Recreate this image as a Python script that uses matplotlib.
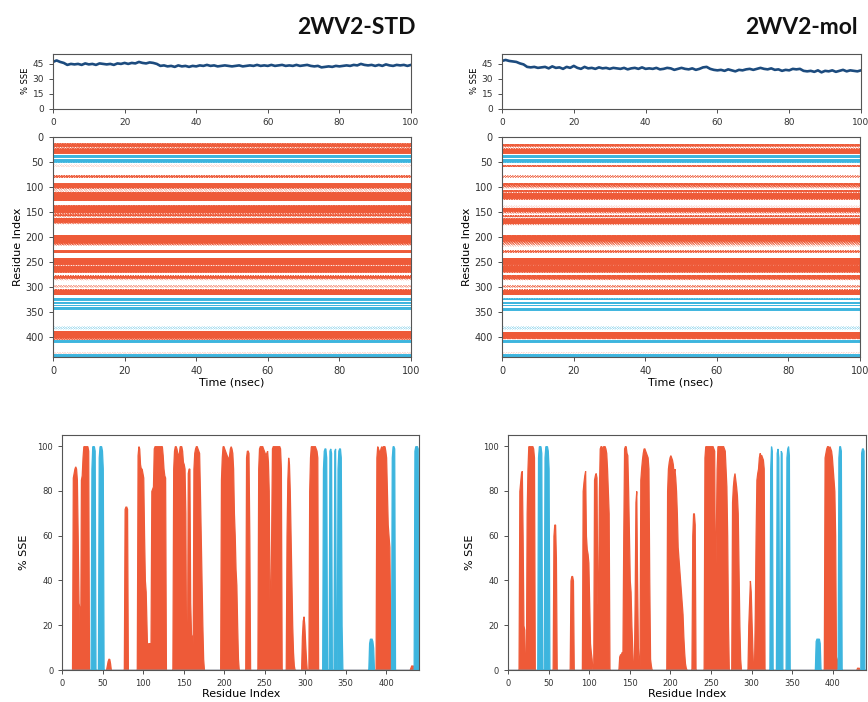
import numpy as np
import matplotlib
matplotlib.use("Agg")
import matplotlib.pyplot as plt

plt.rcParams['lines.scale_dashes'] = False
plt.rcParams['font.family'] = ['DejaVu Sans']

# ---------------- data ----------------
titles = ["2WV2-STD", "2WV2-mol"]
n_residues = 441

# % SSE over time (one value per nsec, 0..100)
std_sse_time = [47, 48.5, 47, 46, 44, 45, 44.5, 45, 44, 45.5, 44.5,
                45, 44, 45.5, 45, 44.5, 45, 44, 45.5, 45, 46,
                45, 46, 45.5, 47, 46, 45.5, 46.5, 46, 45,
                43, 43.5, 42.5, 43, 42, 43.5, 42.5, 43, 42, 43, 42.5,
                43.5, 43, 44, 43, 43.5, 42.5, 43, 43.5, 43, 42.5,
                43, 43.5, 42.5, 43, 43.5, 43, 44, 43, 43.5, 43,
                44, 43, 43.5, 44, 43, 43.5, 43, 44, 43, 43.5,
                44, 43, 42.5, 43, 41.5, 42, 42.5, 42, 43, 42.5,
                43, 43.5, 43, 44, 43.5, 45, 44, 43.5, 44, 43,
                44, 43, 44.5, 43.5, 43, 44, 43.5, 44, 43, 44]
mol_sse_time = [48, 49, 48, 47.5, 47, 45.5, 44.5, 42, 41.5, 42, 41,
                41.5, 42, 40.5, 42.5, 41, 41.5, 40, 42, 41, 43,
                41, 40, 42, 40.5, 41, 40, 41.5, 40.5, 41, 40,
                41, 40.5, 40, 41, 39.5, 40.5, 41, 40, 41.5, 40,
                40.5, 40, 41, 39.5, 40, 41, 40.5, 39, 40, 41,
                40, 39.5, 40.5, 39, 40, 41.5, 42, 40, 39, 38.5,
                39, 38, 39.5, 38.5, 37.5, 39, 38.5, 39.5, 40, 39,
                40, 41, 40, 39.5, 40.5, 39, 39.5, 38, 39, 38.5,
                40, 39.5, 40, 38, 37.5, 38, 37, 38.5, 36.5, 38,
                37.5, 38.5, 37, 38, 39, 37.5, 38.5, 38, 37.5, 38.5]

# per-residue % helix / strand: (first residue, values...)
std_helix = [
    (13, [86, 88, 90, 91, 90, 85, 60, 30, 28]),
    (23, [85, 87, 95, 100, 100, 100, 100, 100, 100, 98]),
    (55, [2, 4, 5, 5, 3]),
    (77, [72, 73, 73, 72]),
    (93, [96, 100, 99, 92, 90, 90, 88, 86, 60, 40, 35, 20, 5]),
    (106, [12, 12, 12, 12, 80, 81, 82, 99, 100, 100, 100, 100, 100, 100, 100,
           100, 100, 100, 96, 90, 87, 86]),
    (137, [90, 98, 100, 100, 99, 97, 96, 97, 100, 100, 100, 98, 93, 92, 90, 70]),
    (155, [88, 90, 90, 30, 16, 15]),
    (162, [90, 97, 99, 100, 100, 99, 98, 97, 80, 60, 40, 20, 5]),
    (196, [85, 95, 100, 100, 99, 98, 97, 96, 95, 94, 96, 99, 100, 99, 97, 90,
           70, 60, 45, 38, 20, 5]),
    (227, [95, 98, 98, 97, 60]),
    (242, [90, 99, 100, 100, 100, 100, 99, 98, 97, 96, 97, 98, 93, 80, 28, 30,
           60, 99, 100, 100, 100, 100, 100, 100, 100, 100, 100, 99, 90]),
    (277, [60, 85, 95, 92, 80, 60, 40, 20, 8, 2]),
    (296, [15, 22, 24, 20, 12, 5]),
    (305, [80, 95, 100, 100, 100, 100, 100, 100, 99, 98, 95]),
    (388, [95, 100, 99, 98, 97, 99, 100, 99, 100, 100, 100, 98, 95, 80, 65, 60,
           55, 20]),
    (430, [1, 2, 2, 2, 1]),
]
std_strand = [
    (36, [90, 100, 100, 100, 98]),
    (45, [95, 100, 100, 100, 98, 90]),
    (322, [90, 98, 99, 99, 95]),
    (330, [98, 99, 97]),
    (336, [98, 99]),
    (340, [90, 98, 99, 99, 95, 20]),
    (379, [12, 14, 14, 14, 13, 10]),
    (407, [95, 100, 100, 99]),
    (435, [98, 100, 100, 100, 99]),
]
mol_helix = [
    (14, [80, 84, 88, 89, 60, 20, 18]),
    (23, [70, 90, 100, 100, 100, 100, 100, 100, 99, 95]),
    (56, [60, 65, 65, 50]),
    (77, [40, 42, 42, 40]),
    (92, [80, 84, 87, 89, 60, 54, 52, 48, 30, 12, 8, 5]),
    (106, [85, 87, 88, 86, 30, 28, 80, 99, 100, 100, 98, 100, 100, 100, 99, 97,
           90, 80, 70]),
    (137, [6, 7, 7, 8, 8, 60, 99, 100, 100, 97, 96, 80, 60, 40, 35, 20, 10]),
    (156, [30, 75, 80, 40, 10, 3]),
    (163, [85, 90, 94, 97, 99, 99, 98, 97, 96, 95, 90, 40, 5, 2]),
    (196, [80, 90, 93, 95, 96, 95, 94, 92, 88, 90, 86, 80, 70, 55, 50, 45, 40,
           35, 30, 25, 15, 8, 3, 1]),
    (227, [60, 70, 70, 65]),
    (242, [95, 100, 100, 100, 100, 100, 100, 100, 100, 100, 100, 99, 98, 28, 60,
           90, 100, 100, 100, 100, 100, 100, 100, 100, 99, 98, 90, 82, 60, 20]),
    (276, [75, 82, 86, 88, 85, 82, 78, 70, 45, 20, 5]),
    (296, [20, 30, 40, 35, 22, 10]),
    (304, [25, 60, 85, 88, 90, 95, 97, 96, 96, 95, 94, 90]),
    (390, [95, 97, 99, 100, 100, 99, 100, 99, 98, 95, 90, 85, 80, 60, 6, 5]),
    (430, [1, 1, 1]),
]
mol_strand = [
    (37, [95, 100, 100, 100, 97]),
    (45, [95, 100, 100, 100, 98, 90]),
    (323, [90, 100, 98]),
    (331, [97, 99, 95]),
    (336, [98, 97]),
    (343, [95, 99, 100, 96]),
    (379, [13, 14, 14, 14, 14, 12]),
    (407, [95, 100, 100, 98]),
    (435, [97, 99, 99, 98]),
]

# ---------------- style ----------------
HELIX = "#EE5A38"
STRAND = "#3DB5DE"
LINE = "#1C4B7E"
SPINE = "#555555"


def to_array(segments):
    arr = np.zeros(n_residues + 1)
    for start, vals in segments:
        arr[start:start + len(vals)] = vals
    return arr


def style_axes(ax, fs):
    for s in ax.spines.values():
        s.set_color(SPINE)
        s.set_linewidth(0.8)
    ax.tick_params(direction='out', length=3, width=0.6, colors='#333333',
                   labelsize=fs)


W, H = 868, 702
fig = plt.figure(figsize=(W / 100, H / 100), dpi=100)


def ax_px(x0, y0, x1, y1):
    return fig.add_axes([x0 / W, 1 - y1 / H, (x1 - x0) / W, (y1 - y0) / H])


cols = [
    dict(title=titles[0], t=std_sse_time, h=std_helix, e=std_strand,
         top=(53, 54, 411, 108.5), mid=(53, 136.7, 411, 357),
         bot=(62.3, 435, 419.3, 670), tx=416),
    dict(title=titles[1], t=mol_sse_time, h=mol_helix, e=mol_strand,
         top=(502, 54, 861, 108.5), mid=(502, 136.7, 860, 357),
         bot=(508, 435, 866, 670), tx=858),
]

residues = np.arange(n_residues + 1)

for c in cols:
    helix = to_array(c['h'])
    strand = to_array(c['e'])

    # title
    fig.text(c['tx'] / W, 1 - 28 / H, c['title'], ha='right', va='center',
             fontsize=16.5, fontweight='bold', family=['Lato', 'DejaVu Sans'],
             color='#111111')

    # top: % SSE vs time
    ax = ax_px(*c['top'])
    tvals = np.asarray(c['t'], dtype=float)
    times = np.linspace(0, 100, len(tvals))
    ax.plot(times, tvals, color=LINE, lw=1.9)
    ax.set_xlim(0, 100)
    ax.set_ylim(0, 55)
    ax.set_yticks([0, 15, 30, 45])
    ax.set_xticks([0, 20, 40, 60, 80, 100])
    ax.set_ylabel("% SSE", fontsize=6, labelpad=2)
    style_axes(ax, 6.5)

    # middle: residue index vs time
    ax = ax_px(*c['mid'])
    period = 1.8
    for arr, colr in ((helix, HELIX), (strand, STRAND)):
        for r in residues:
            p = arr[r]
            if p <= 0:
                continue
            if p >= 95:
                ls = 'solid'
            else:
                on = max(period * p / 100.0, 0.12)
                off = max(period - on, 0.1)
                ls = ((r * 0.618 * period * 3.7) % period, (on, off))
            ax.hlines(r, 0, 100, colors=colr, linewidth=0.7, linestyles=[ls])
    ax.set_xlim(0, 100)
    ax.set_ylim(n_residues, 0)
    ax.set_yticks([0, 50, 100, 150, 200, 250, 300, 350, 400])
    ax.set_xticks([0, 20, 40, 60, 80, 100])
    ax.set_xlabel("Time (nsec)", fontsize=8, labelpad=1)
    ax.set_ylabel("Residue Index", fontsize=8, labelpad=2)
    style_axes(ax, 7)

    # bottom: % SSE per residue
    ax = ax_px(*c['bot'])
    ax.fill_between(residues, helix, 0, color=HELIX, edgecolor=HELIX,
                    lw=0.9, joinstyle='miter')
    ax.fill_between(residues, strand, 0, color=STRAND, edgecolor=STRAND,
                    lw=0.9, joinstyle='miter')
    ax.set_xlim(0, n_residues)
    ax.set_ylim(0, 105)
    ax.set_yticks([0, 20, 40, 60, 80, 100])
    ax.set_xticks([0, 50, 100, 150, 200, 250, 300, 350, 400])
    ax.set_xlabel("Residue Index", fontsize=8, labelpad=1)
    ax.set_ylabel("% SSE", fontsize=8, labelpad=6)
    style_axes(ax, 6)

fig.savefig("out.png", dpi=100)
